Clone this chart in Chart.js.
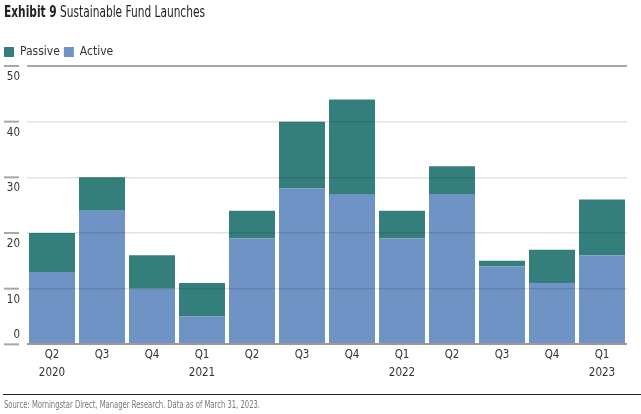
<!DOCTYPE html>
<html>
<head>
<meta charset="utf-8">
<script src="https://cdn.jsdelivr.net/npm/chart.js@4.4.0/dist/chart.umd.min.js"></script>
<style>
  body { margin: 0; background: #fff; }
  #wrap { position: relative; width: 641px; height: 414px; font-family: "DejaVu Sans Condensed", "Liberation Sans Narrow", sans-serif; }
  .fit { position: absolute; white-space: nowrap; transform-origin: 0 0; }
  #title { left: 4px; top: 3px; font-size: 15px; color: #222; }
  #title b { font-weight: bold; }
  #rule { position: absolute; left: 3px; right: 0; top: 394px; border-top: 1.5px solid #222; }
  #source { left: 4px; top: 398px; font-size: 10.5px; color: #777; }
  canvas { position: absolute; left: 0; top: 0; }
</style>
</head>
<body>
<div id="wrap">
  <canvas id="fundChart" width="641" height="414"></canvas>
  <div id="title" class="fit" data-w="201"><b>Exhibit 9</b> Sustainable Fund Launches</div>
  <div id="rule"></div>
  <div id="source" class="fit" data-w="256">Source: Morningstar Direct, Manager Research. Data as of March 31, 2023.</div>
</div>
<script>
// datos del grafico
const quarters = [['Q2', '2020'], ['Q3', ''], ['Q4', ''], ['Q1', '2021'], ['Q2', ''], ['Q3', ''],
                  ['Q4', ''], ['Q1', '2022'], ['Q2', ''], ['Q3', ''], ['Q4', ''], ['Q1', '2023']];
const activeFunds = [13, 24, 10, 5, 19, 28, 27, 19, 27, 14, 11, 16];
const passiveFunds = [7, 6, 6, 6, 5, 12, 17, 5, 5, 1, 6, 10];
const yTicks = [0, 10, 20, 30, 40, 50];

const fontFamily = '"DejaVu Sans Condensed", "Liberation Sans Narrow", sans-serif';

// encoger los textos condensados al ancho del original
document.querySelectorAll('.fit').forEach(el => {
    const w = el.getBoundingClientRect().width;
    el.style.transform = 'scaleX(' + (parseFloat(el.dataset.w) / w) + ')';
});

// etiquetas del eje Y debajo de cada linea, con una marca corta
const yLabels = {
    id: 'yLabels',
    afterDraw(chart) {
        const y = chart.scales.y;
        const c = chart.ctx;
        c.save();
        c.font = '11.5px ' + fontFamily;
        c.fillStyle = '#333';
        c.textAlign = 'right';
        c.textBaseline = 'middle';
        y.ticks.forEach(t => {
            const py = y.getPixelForValue(t.value);
            c.strokeStyle = '#a8a8a8';
            c.lineWidth = 2;
            c.beginPath();
            c.moveTo(4, py);
            c.lineTo(19, py);
            c.stroke();
            c.fillText(String(t.value), 20, py + (t.value === 0 ? -9 : 11));
        });
        c.restore();
    }
};

new Chart(document.getElementById('fundChart'), {
    type: 'bar',
    data: {
        labels: quarters,
        datasets: [
            { label: 'Active', data: activeFunds, backgroundColor: '#7093c6' },
            { label: 'Passive', data: passiveFunds, backgroundColor: '#347f7c' }
        ]
    },
    options: {
        responsive: false,
        animation: false,
        layout: { padding: { top: 42, right: 14, bottom: 30, left: 0 } },
        datasets: { bar: { barPercentage: 0.92, categoryPercentage: 1 } },
        plugins: {
            title: { display: false },
            tooltip: { enabled: false },
            legend: {
                position: 'top',
                align: 'start',
                reverse: true,
                maxHeight: 24,
                labels: {
                    boxWidth: 10,
                    boxHeight: 10,
                    padding: 4,
                    color: '#333',
                    font: { family: fontFamily, size: 12 }
                }
            }
        },
        scales: {
            x: {
                stacked: true,
                grid: { display: false, drawTicks: false },
                border: { display: false },
                ticks: {
                    color: '#333',
                    padding: 2,
                    maxRotation: 0,
                    autoSkip: false,
                    font: { family: fontFamily, size: 11.5, lineHeight: 1.55 }
                }
            },
            y: {
                stacked: true,
                min: 0,
                max: 50,
                afterBuildTicks: scale => { scale.ticks = yTicks.map(v => ({ value: v })); },
                afterFit: scale => { scale.width = 27; },
                ticks: { display: false },
                border: { display: false },
                grid: {
                    z: 1,
                    drawTicks: false,
                    color: ctx => ctx.tick.value === 50 ? '#a8a8a8' : (ctx.tick.value === 0 ? '#9a9a9a' : 'rgba(0,0,0,0.11)'),
                    lineWidth: ctx => (ctx.tick.value === 50 || ctx.tick.value === 0) ? 2 : 1.5
                }
            }
        }
    },
    plugins: [yLabels]
});
</script>
</body>
</html>
